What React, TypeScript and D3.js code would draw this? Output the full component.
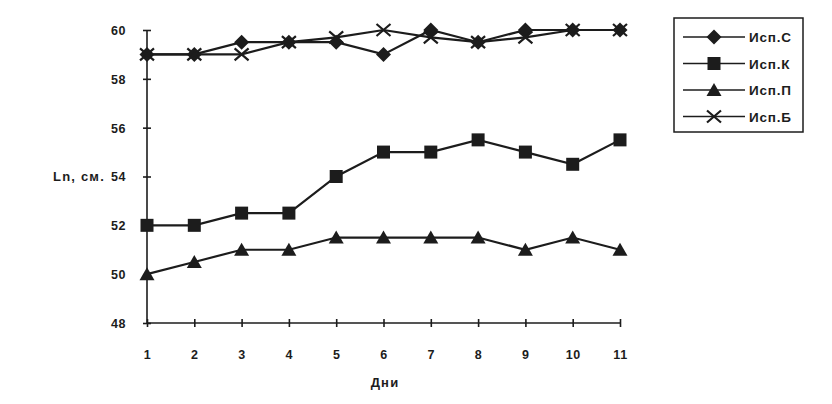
import React, { useEffect, useRef } from "react";
import * as d3 from "d3";

const days = [1, 2, 3, 4, 5, 6, 7, 8, 9, 10, 11];
const yTicks = [48, 50, 52, 54, 56, 58, 60];

const ispC = [59, 59, 59.5, 59.5, 59.5, 59, 60, 59.5, 60, 60, 60];
const ispK = [52, 52, 52.5, 52.5, 54, 55, 55, 55.5, 55, 54.5, 55.5];
const ispP = [50, 50.5, 51, 51, 51.5, 51.5, 51.5, 51.5, 51, 51.5, 51];
const ispB = [59, 59, 59, 59.5, 59.7, 60, 59.7, 59.5, 59.7, 60, 60];

const seriesNames = ["Исп.С", "Исп.К", "Исп.П", "Исп.Б"];
const seriesValues = [ispC, ispK, ispP, ispB];
const markerKinds = ["diamond", "square", "triangle", "cross"];

const INK = "#1c1c1c";
const FONT = "'Liberation Sans', Arial, sans-serif";

const App: React.FC = () => {
  const svgRef = useRef<SVGSVGElement>(null);

  useEffect(() => {
    if (!svgRef.current) return;
    const svg = d3.select(svgRef.current);
    svg.selectAll("*").remove();

    const x = d3.scaleLinear().domain([1, 11]).range([147, 620]);
    const y = d3.scaleLinear().domain([48, 60]).range([323, 30]);

    // background
    svg.append("rect").attr("width", 832).attr("height", 404).attr("fill", "#fff");

    // y axis (ticks cross the line)
    const yAxis = svg.append("g").attr("transform", "translate(147,0)");
    yAxis.call(
      d3.axisLeft(y).tickValues(yTicks).tickSize(4).tickPadding(17).tickFormat(d3.format("d"))
    );
    yAxis.selectAll(".tick line").attr("x1", 4).attr("x2", -4);
    yAxis.select(".domain").attr("d", `M0,${y(48)}V${y(60)}`);

    // x axis
    const xAxis = svg.append("g").attr("transform", "translate(0,323)");
    xAxis.call(
      d3.axisBottom(x).tickValues(days).tickSize(4).tickPadding(23).tickFormat(d3.format("d"))
    );
    xAxis.selectAll(".tick line").attr("y1", -4).attr("y2", 4);
    xAxis.select(".domain").attr("d", `M${x(1)},0H${x(11)}`);

    svg
      .selectAll(".domain, .tick line")
      .attr("stroke", INK)
      .attr("stroke-width", 1.6);
    svg
      .selectAll(".tick text")
      .attr("fill", INK)
      .attr("font-family", FONT)
      .attr("font-weight", "bold")
      .attr("font-size", 12.5)
      .attr("letter-spacing", 0.6);
    yAxis.selectAll(".tick text").attr("dy", "0.35em");

    // axis titles
    svg
      .append("text")
      .attr("x", 79)
      .attr("y", y(54) + 4)
      .attr("text-anchor", "middle")
      .attr("font-family", FONT)
      .attr("font-weight", "bold")
      .attr("font-size", 13)
      .attr("letter-spacing", 1.2)
      .attr("fill", INK)
      .text("Ln, см.");
    svg
      .append("text")
      .attr("x", 385)
      .attr("y", 387)
      .attr("text-anchor", "middle")
      .attr("font-family", FONT)
      .attr("font-weight", "bold")
      .attr("font-size", 13)
      .attr("letter-spacing", 1.2)
      .attr("fill", INK)
      .text("Дни");

    const drawMarker = (
      g: d3.Selection<SVGGElement, unknown, null, undefined>,
      kind: string,
      cx: number,
      cy: number
    ) => {
      if (kind === "diamond") {
        g.append("path")
          .attr("d", `M${cx},${cy - 7.5}L${cx + 7.5},${cy}L${cx},${cy + 7.5}L${cx - 7.5},${cy}Z`)
          .attr("fill", INK);
      } else if (kind === "square") {
        g.append("rect")
          .attr("x", cx - 6.5)
          .attr("y", cy - 6.5)
          .attr("width", 13)
          .attr("height", 13)
          .attr("fill", INK);
      } else if (kind === "triangle") {
        g.append("path")
          .attr("d", `M${cx},${cy - 7}L${cx + 7.5},${cy + 6}L${cx - 7.5},${cy + 6}Z`)
          .attr("fill", INK);
      } else {
        g.append("path")
          .attr("d", `M${cx - 7},${cy - 6}L${cx + 7},${cy + 6}M${cx - 7},${cy + 6}L${cx + 7},${cy - 6}`)
          .attr("stroke", INK)
          .attr("stroke-width", 2.2)
          .attr("fill", "none");
      }
    };

    const line = d3
      .line<number>()
      .x((_, i) => x(days[i]))
      .y((d) => y(d));

    // draw lines first, then markers
    seriesValues.forEach((vals) => {
      svg
        .append("path")
        .datum(vals)
        .attr("fill", "none")
        .attr("stroke", INK)
        .attr("stroke-width", 2.2)
        .attr("d", line);
    });
    seriesValues.forEach((vals, si) => {
      const g = svg.append("g");
      vals.forEach((v, i) => drawMarker(g, markerKinds[si], x(days[i]), y(v)));
    });

    // legend
    const lg = svg.append("g");
    lg.append("rect")
      .attr("x", 674)
      .attr("y", 18)
      .attr("width", 129)
      .attr("height", 114)
      .attr("fill", "#fff")
      .attr("stroke", INK)
      .attr("stroke-width", 1.5);
    seriesNames.forEach((name, i) => {
      const ly = 37 + i * 26.5;
      lg.append("line")
        .attr("x1", 683)
        .attr("x2", 745)
        .attr("y1", ly)
        .attr("y2", ly)
        .attr("stroke", INK)
        .attr("stroke-width", 1.4);
      drawMarker(lg, markerKinds[i], 714, ly);
      lg.append("text")
        .attr("x", 749)
        .attr("y", ly + 5)
        .attr("font-family", FONT)
        .attr("font-weight", "bold")
        .attr("font-size", 13.5)
        .attr("letter-spacing", 0.8)
        .attr("fill", INK)
        .text(name);
    });
  }, []);

  return (
    <svg
      ref={svgRef}
      width={832}
      height={404}
      style={{ position: "absolute", left: 0, top: 0, display: "block" }}
    />
  );
};

export default App;
